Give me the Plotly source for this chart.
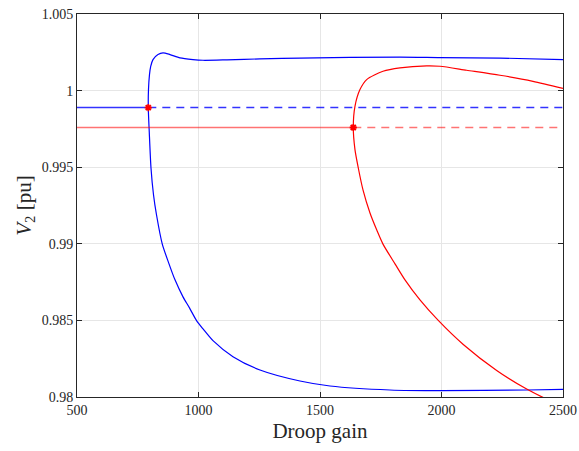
import plotly.graph_objects as go

# Blue curve (upper branch right->left, then lower branch left->right)
blue_x = [2500, 2240.6, 1993.7, 1829.1, 1417.6, 1253.0, 1117.3, 1018.5, 977.3, 923.8, 882.7, 853.9,
          833.3, 812.7, 803.3, 798.3, 794.2, 793.4,
          797.5, 804.5, 814.8, 827.1, 851.0, 875.7, 903.3, 936.2, 962.9, 992.6, 1019.7,
          1059.6, 1141.9, 1253.0, 1417.6, 1541.1, 1788.0, 2002.0, 2351.8, 2500]
blue_y = [1.002026, 1.002124, 1.002157, 1.00219, 1.002124, 1.002072, 1.002007, 1.00198, 1.002026,
          1.002137, 1.002353, 1.002464, 1.002353, 1.002026, 1.001588, 1.001046, 1.000065, 0.998869,
          0.997255, 0.994948, 0.993203, 0.991895, 0.98998, 0.988823, 0.987647, 0.986536, 0.985817,
          0.98497, 0.984425, 0.98368, 0.982634, 0.981765, 0.981046, 0.980719, 0.980458,
          0.980412, 0.980458, 0.980503]

# Red curve (upper branch right->left, then lower branch)
red_x = [2500, 2376.4, 2240.6, 2103.6, 1993.7, 1939.0, 1829.1, 1759.2, 1692.1, 1664.5, 1643.9, 1637.0,
         1643.9, 1657.6, 1676.9, 1705.7, 1734.5, 1759.2, 1808.6, 1849.7, 1911.4, 1986.7,
         2089.6, 2227.1, 2350.5, 2425.8, 2508.0]
red_y = [1.00015, 1.000608, 1.001, 1.001327, 1.001588, 1.001614, 1.001484, 1.001261, 1.000719,
         1.000065, 0.998974, 0.997601, 0.996144, 0.994948, 0.993516, 0.992006, 0.990863, 0.98998,
         0.988693, 0.987647, 0.98634, 0.985, 0.983431, 0.981732, 0.980516, 0.979915, 0.979366]

# Equilibrium levels and bifurcation gains
blue_level = 0.99889
red_level = 0.99759
blue_bif = 793.4
red_bif = 1637.0
x_min, x_max = 500, 2500

x_ticks = [500, 1000, 1500, 2000, 2500]
y_ticks = [0.98, 0.985, 0.99, 0.995, 1.0, 1.005]
y_tick_text = ["0.98", "0.985", "0.99", "0.995", "1", "1.005"]

fig = go.Figure()

fig.add_trace(go.Scatter(x=blue_x, y=blue_y, mode="lines",
                         line=dict(color="#0000ff", width=1.2, shape="spline", smoothing=0.7)))
fig.add_trace(go.Scatter(x=red_x, y=red_y, mode="lines",
                         line=dict(color="#ff0000", width=1.2, shape="spline", smoothing=0.7)))

fig.add_trace(go.Scatter(x=[x_min, blue_bif], y=[blue_level, blue_level], mode="lines",
                         line=dict(color="rgba(0,0,255,0.8)", width=1.5)))
fig.add_trace(go.Scatter(x=[blue_bif, x_max], y=[blue_level, blue_level], mode="lines",
                         line=dict(color="rgba(0,0,255,0.8)", width=1.5, dash="8px,6px")))
fig.add_trace(go.Scatter(x=[x_min, red_bif], y=[red_level, red_level], mode="lines",
                         line=dict(color="rgba(255,0,0,0.55)", width=1.5)))
fig.add_trace(go.Scatter(x=[red_bif, x_max], y=[red_level, red_level], mode="lines",
                         line=dict(color="rgba(255,0,0,0.55)", width=1.5, dash="8px,6px")))

fig.add_trace(go.Scatter(x=[blue_bif, red_bif], y=[blue_level, red_level], mode="markers",
                         marker=dict(symbol="asterisk-open", size=6, color="#ff0000",
                                     line=dict(color="#ff0000", width=1.8))))

axis_common = dict(
    showline=True, linecolor="#262626", linewidth=1, mirror="ticks",
    ticks="inside", ticklen=5, tickcolor="#262626",
    showgrid=True, gridcolor="#e6e6e6", gridwidth=1, zeroline=False,
    automargin=False,
    tickfont=dict(family="Liberation Serif", size=14, color="#262626"),
)

fig.update_xaxes(range=[x_min, x_max], tickvals=x_ticks,
                 title=dict(text="Droop gain", font=dict(family="Liberation Serif", size=21, color="#262626"),
                            standoff=6),
                 **axis_common)
fig.update_yaxes(range=[0.98, 1.005], tickvals=y_ticks, ticktext=y_tick_text,
                 title=dict(text="<i>V</i><sub>2</sub> [pu]",
                            font=dict(family="Liberation Serif", size=21, color="#262626"), standoff=4),
                 **axis_common)

fig.update_layout(
    width=579, height=451,
    margin=dict(l=77, r=16, t=14, b=54),
    plot_bgcolor="white", paper_bgcolor="white",
    showlegend=False,
)

fig.write_html("out.html")
